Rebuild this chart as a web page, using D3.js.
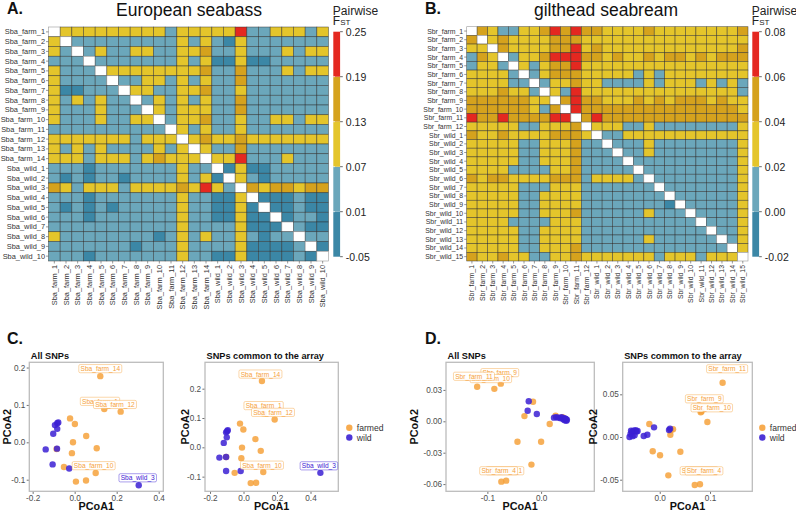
<!DOCTYPE html>
<html><head><meta charset="utf-8">
<script src="https://cdn.jsdelivr.net/npm/d3@7"></script>
<style>
body{margin:0;background:#fff;}
svg{display:block;font-family:"Liberation Sans",Arial,Helvetica,sans-serif;}
</style>
</head><body>
<svg id="chart" width="796" height="510"></svg>
<script>
// ---------------- DATA ----------------
// Pairwise FST heatmaps: each cell coded by its FST class (W = diagonal)
const sbaLabels = ["Sba_farm_1","Sba_farm_2","Sba_farm_3","Sba_farm_4","Sba_farm_5","Sba_farm_6","Sba_farm_7","Sba_farm_8","Sba_farm_9","Sba_farm_10","Sba_farm_11","Sba_farm_12","Sba_farm_13","Sba_farm_14","Sba_wild_1","Sba_wild_2","Sba_wild_3","Sba_wild_4","Sba_wild_5","Sba_wild_6","Sba_wild_7","Sba_wild_8","Sba_wild_9","Sba_wild_10"];
const sbaRows = [
"W Y Y Y Y Y Y Y Y Y L Y Y Y Y Y R L L Y Y Y L Y",
"Y W L L L L L L L L L Y L Y L D Y L L L L L L L",
"Y L W L Y L L Y Y L L Y Y O L L Y L L L Y L Y Y",
"L L L W L L L L L L L Y L Y D D Y D D L L L L L",
"Y L L L W Y Y Y Y Y Y Y Y O L L O L L L Y L Y Y",
"Y L L L L W L L Y Y L Y L Y L L O L L L L L L L",
"Y D D L L L W Y Y L L Y Y O L L Y L L L L L L L",
"Y L Y L Y L L W L Y L Y L Y L L O L L L L L L L",
"Y L L L Y L L L W Y L Y Y Y L L O L L L L L L L",
"Y L L L Y L L Y Y W L Y Y O L L Y L L Y Y L Y Y",
"L L L L L L L L L L W Y L Y L L Y L L L L L L L",
"Y Y Y Y Y Y Y L Y Y Y W Y O Y Y O Y Y Y Y Y Y Y",
"Y L Y L Y L L L L Y L Y W Y L L O L L L L L L L",
"Y Y Y L Y Y Y L Y O Y Y Y W Y Y R L L L Y L L L",
"L L L D L L L L L L L Y L L W D Y D D L L L L L",
"L D L D L L D L L L L Y L Y D W Y L D L L L L L",
"O Y L Y Y Y L Y Y Y Y O Y R Y L W O Y O O Y O O",
"L L L D L L L L L L L Y L L D D Y W D D D L D D",
"L D L D L D L L L L L Y L L D D Y D W D D L D D",
"L L L D L L L L L L L Y L L D D Y D D W D L L D",
"L L L L L L L L L L L Y L L L L Y D D D W L D D",
"Y L L L L L L L L D L Y L Y L L Y L D L L W L L",
"L L L L L L L D L L L Y L L L L Y D D D D L W D",
"L L L D L L L L L L L Y L L D D Y D D D D L D W"];
const sbaClassValues = {D:-0.02, L:0.04, Y:0.10, O:0.16, R:0.22};
const sbaBreaks = [-0.05, 0.01, 0.07, 0.13, 0.19, 0.25];

const sbrLabels = ["Sbr_farm_1","Sbr_farm_2","Sbr_farm_3","Sbr_farm_4","Sbr_farm_5","Sbr_farm_6","Sbr_farm_7","Sbr_farm_8","Sbr_farm_9","Sbr_farm_10","Sbr_farm_11","Sbr_farm_12","Sbr_wild_1","Sbr_wild_2","Sbr_wild_3","Sbr_wild_4","Sbr_wild_5","Sbr_wild_6","Sbr_wild_7","Sbr_wild_8","Sbr_wild_9","Sbr_wild_10","Sbr_wild_11","Sbr_wild_12","Sbr_wild_13","Sbr_wild_14","Sbr_wild_15"];
const sbrRows = [
"W O Y L L Y Y O R O R O O Y Y Y Y O Y Y Y Y Y Y Y Y O",
"O W Y O Y Y Y Y O O O Y Y Y Y Y Y Y Y Y Y Y Y Y Y Y Y",
"Y Y W O Y Y Y Y O O R Y O Y Y Y Y Y Y Y Y Y Y Y Y Y O",
"L O Y W L Y Y O R R R O O Y O Y Y O Y O O Y O Y O O O",
"L Y Y L W Y L Y O O R Y Y Y Y Y Y Y Y Y Y Y Y Y Y Y Y",
"Y Y Y Y L W L Y O O O Y Y Y Y Y L Y L Y Y Y Y Y Y Y Y",
"Y Y Y Y L L W L Y Y O Y Y L L L L Y L Y Y Y L Y L Y L",
"Y Y Y O Y Y L W Y L R Y Y Y Y Y Y Y Y Y Y Y Y Y Y Y L",
"O O O O O O Y Y W O R O O Y Y Y O Y O Y O O O Y O Y Y",
"O O O O O O Y L O W R O O O O O O O O O O O O O O O Y",
"R O O R O O O O R R W O R O O O O O O O O O O O O O O",
"Y Y Y Y Y L L Y Y Y O W Y Y Y L L Y L L L L L L L L Y",
"O Y Y O Y Y Y Y O O O Y W L L Y Y Y Y Y Y Y Y Y Y Y Y",
"Y Y Y Y Y L L Y Y Y O L L W L L L Y L L L L L L L L Y",
"Y Y Y Y Y L L Y Y Y O L L L W L L Y L L L L L L L L Y",
"Y Y Y Y Y L L Y Y Y O L L L L W L L L L L L L L L L Y",
"Y Y Y Y L L L L Y Y O L L L L L W L L L L L L L L L Y",
"O Y O O Y Y Y Y O O O L Y Y Y Y L W L L L L L L L L Y",
"Y Y Y Y Y L L L Y Y Y L L L L L L L W L L L L L L L Y",
"Y Y Y Y Y L L Y Y Y Y L L L L L L L L W L L L L L L Y",
"Y Y Y Y Y L L Y Y Y Y L L L L L L L L D W L L L L L Y",
"Y Y Y Y Y L L Y Y Y O L L L L L L Y L L L W L L L L Y",
"Y Y Y Y L L L L Y Y Y L L L L L L L L L L L W L L L Y",
"Y Y Y Y Y L L Y Y Y Y L L L L L L L L L L L L W L L Y",
"Y Y Y Y Y L L Y Y Y Y L L L L L L Y L L L L L L W L Y",
"Y Y Y Y Y L L Y Y Y O L L L L L L L L L L L L L L W Y",
"O Y Y O Y Y L L Y Y O Y Y Y Y Y Y Y L Y Y Y L Y Y Y W"];
const sbrClassValues = {D:-0.01, L:0.01, Y:0.03, O:0.05, R:0.07};
const sbrBreaks = [-0.02, 0.00, 0.02, 0.04, 0.06, 0.08];

const fstColors = ["#3b87a6", "#6ba7bb", "#e4c52b", "#d5a21d", "#e42820"];

// PCoA coordinates [PCoA1, PCoA2]
const sbaAllFarmed = [[0.122,0.177],[0.141,0.089],[0.219,0.082],[0.100,-0.082],[-0.022,0.064],[0.001,0.049],[0.055,0.017],[-0.008,0.000],[0.105,-0.016],[-0.013,-0.029],[-0.086,-0.018],[-0.051,-0.066],[0.054,-0.102],[0.006,-0.105]];
const sbaAllWild = [[-0.083,0.051],[-0.094,0.046],[-0.078,0.053],[-0.083,0.036],[-0.102,0.023],[-0.138,-0.019],[-0.084,-0.017],[-0.105,-0.059],[-0.026,-0.070],[0.305,-0.115]];
const sbaArrFarmed = [[0.110,0.226],[0.120,0.115],[0.186,0.095],[0.118,-0.084],[-0.021,0.081],[-0.001,0.061],[0.071,0.028],[-0.009,-0.001],[0.103,-0.012],[-0.013,-0.037],[-0.053,-0.087],[0.043,-0.122],[0.075,-0.121],[-0.104,-0.033]];
const sbaArrWild = [[-0.094,0.058],[-0.104,0.051],[-0.098,0.055],[-0.100,0.034],[-0.118,0.015],[-0.144,-0.035],[-0.104,-0.033],[-0.104,-0.081],[-0.017,-0.081],[0.459,-0.087]];
const sbrAllFarmed = [[-0.119,0.033],[-0.087,0.031],[-0.075,0.036],[-0.074,-0.0577],[-0.065,-0.0567],[-0.015,0.0187],[-0.031,0.005],[0.027,0.0054],[0.016,-0.0026],[-0.044,-0.0195],[0.000,-0.0195],[-0.018,-0.0414],[0.040,0.004],[0.045,0.002]];
const sbrAllWild = [[-0.023,0.0191],[-0.025,0.0101],[-0.008,0.007],[0.024,0.0035],[0.028,0.004],[0.032,0.0035],[0.036,0.003],[0.038,0.004],[0.041,0.002],[0.043,0.003],[0.044,0.001],[0.046,0.002],[0.047,0.0005],[0.045,0.0025],[0.048,0.0015]];
const sbrArrFarmed = [[0.125,0.0636],[0.0815,0.0289],[0.0947,0.0176],[0.080,-0.0554],[0.0696,-0.0562],[-0.0207,0.0152],[0.0264,0.009],[0.0211,0.0027],[-0.0139,-0.0167],[0.0006,-0.0214],[0.041,-0.0172],[0.0171,-0.0449],[0.083,0.030],[0.022,0.008]];
const sbrArrWild = [[-0.0113,0.0113],[0.0185,0.0082],[0.0205,0.0098],[-0.060,0.000],[-0.058,0.0035],[-0.055,0.006],[-0.052,0.0075],[-0.050,0.002],[-0.048,0.008],[-0.046,0.0065],[-0.044,0.007],[-0.054,0.001],[-0.0318,0.0012],[-0.0246,0.0027],[-0.057,0.0075]];

// labelled points: [name, group, index]
const sbaAllLabels = [["Sba_farm_14","farmed",0],["Sba_farm_1","farmed",1],["Sba_farm_12","farmed",2],["Sba_farm_10","farmed",3],["Sba_wild_3","wild",9]];
const sbaArrLabels = [["Sba_farm_14","farmed",0],["Sba_farm_1","farmed",1],["Sba_farm_12","farmed",2],["Sba_farm_10","farmed",3],["Sba_wild_3","wild",9]];
const sbrAllLabels = [["Sbr_farm_9","farmed",2],["Sbr_farm_10","farmed",1],["Sbr_farm_11","farmed",0],["Sbr_farm_1","farmed",4],["Sbr_farm_4","farmed",3]];
const sbrArrLabels = [["Sbr_farm_11","farmed",0],["Sbr_farm_9","farmed",1],["Sbr_farm_10","farmed",2],["Sbr_farm_1","farmed",4],["Sbr_farm_4","farmed",3]];

const groupNames = ["farmed","wild"];
const groupColors = {farmed:"#f6a23c", wild:"#3b20d3"};

// ---------------- DRAWING ----------------
const svg = d3.select("#chart");
const FONT = '"Liberation Sans",Arial,Helvetica,sans-serif';

function heatmap(o) {
  const g = svg.append("g");
  const x = d3.scaleBand().domain(o.labels).range([o.x0, o.x1]);
  const y = d3.scaleBand().domain(o.labels).range([o.y0, o.y1]);
  const color = d3.scaleThreshold().domain(o.breaks.slice(1, -1)).range(fstColors);
  const cells = [];
  o.rows.forEach((r, i) => r.trim().split(/\s+/).forEach((c, j) => {
    cells.push({row: o.labels[i], col: o.labels[j], v: c === "W" ? null : o.values[c]});
  }));
  g.selectAll("rect.cell").data(cells).join("rect")
    .attr("x", d => x(d.col)).attr("y", d => y(d.row))
    .attr("width", x.bandwidth()).attr("height", y.bandwidth())
    .attr("fill", d => d.v === null ? "#ffffff" : color(d.v))
    .attr("stroke", d => d.v === null ? "#9a9a9a" : "#2e2e2e")
    .attr("stroke-opacity", d => d.v === null ? 1 : 0.75)
    .attr("stroke-width", 0.6);
  g.selectAll("text.rl").data(o.labels).join("text")
    .attr("x", o.x0 - 3.5).attr("y", d => y(d) + y.bandwidth() / 2)
    .attr("text-anchor", "end").attr("dominant-baseline", "central")
    .attr("font-size", o.fs).attr("fill", "#333").text(d => d);
  g.selectAll("line.rt").data(o.labels).join("line")
    .attr("x1", o.x0 - 2.5).attr("x2", o.x0)
    .attr("y1", d => y(d) + y.bandwidth() / 2).attr("y2", d => y(d) + y.bandwidth() / 2)
    .attr("stroke", "#555").attr("stroke-width", 0.6);
  g.selectAll("text.cl").data(o.labels).join("text")
    .attr("transform", d => `translate(${x(d) + x.bandwidth() / 2},${o.y1 + 4}) rotate(-90)`)
    .attr("text-anchor", "end").attr("dominant-baseline", "central")
    .attr("font-size", o.fs).attr("fill", "#333").text(d => d);
  g.selectAll("line.ct").data(o.labels).join("line")
    .attr("y1", o.y1).attr("y2", o.y1 + 2.5)
    .attr("x1", d => x(d) + x.bandwidth() / 2).attr("x2", d => x(d) + x.bandwidth() / 2)
    .attr("stroke", "#555").attr("stroke-width", 0.6);
  const cb = d3.scaleLinear().domain([o.breaks[0], o.breaks[o.breaks.length - 1]]).range([256.7, 31.7]);
  const bins = d3.pairs(o.breaks);
  g.selectAll("rect.cb").data(bins).join("rect")
    .attr("x", o.barX).attr("width", 6.8)
    .attr("y", d => cb(d[1])).attr("height", d => cb(d[0]) - cb(d[1]))
    .attr("fill", (d, i) => fstColors[i]);
  g.selectAll("line.cbt").data(o.breaks).join("line")
    .attr("x1", o.barX + 6.8).attr("x2", o.barX + 9.5)
    .attr("y1", d => cb(d)).attr("y2", d => cb(d))
    .attr("stroke", "#444").attr("stroke-width", 0.8);
  g.selectAll("line.cbt2").data(o.breaks.slice(1, -1)).join("line")
    .attr("x1", o.barX).attr("x2", o.barX + 1.5)
    .attr("y1", d => cb(d)).attr("y2", d => cb(d))
    .attr("stroke", "#ffffff").attr("stroke-width", 0.8);
  g.selectAll("text.cbl").data(o.breaks).join("text")
    .attr("x", o.barX + 12.5).attr("y", d => cb(d)).attr("dominant-baseline", "central")
    .attr("font-size", 10.5).attr("fill", "#222")
    .text(d => d3.format(".2f")(d).replace("\u2212", "-"));
  g.append("text").attr("x", o.barX - 0.5).attr("y", 15).attr("font-size", 12).attr("fill", "#222").text("Pairwise");
  const f = g.append("text").attr("x", o.barX - 0.5).attr("y", 25).attr("font-size", 12).attr("fill", "#222");
  f.append("tspan").text("F");
  f.append("tspan").attr("font-size", 8).text("ST");
  g.append("text").attr("x", o.titleX).attr("y", 15.5).attr("text-anchor", "middle")
    .attr("font-size", 17.5).attr("fill", "#111").text(o.title);
  g.append("text").attr("x", o.letterX).attr("y", 14).attr("font-size", 16)
    .attr("font-weight", "bold").attr("fill", "#111").text(o.letter);
}

heatmap({labels: sbaLabels, rows: sbaRows, values: sbaClassValues, breaks: sbaBreaks,
  x0: 48.5, x1: 328.5, y0: 27, y1: 261, fs: 7.4, barX: 333.3,
  title: "European seabass", titleX: 189, letter: "A.", letterX: 7});
heatmap({labels: sbrLabels, rows: sbrRows, values: sbrClassValues, breaks: sbrBreaks,
  x0: 466.7, x1: 748, y0: 26.7, y1: 261, fs: 6.9, barX: 752.3,
  title: "gilthead seabream", titleX: 606, letter: "B.", letterX: 425});

function fmtTick(p) { return d => d3.format(p)(d).replace("\u2212", "-"); }

function pcoa(o) {
  const g = svg.append("g");
  const [bx0, by0, bx1, by1] = o.box;
  const x = d3.scaleLinear().domain(o.xDom).range([bx0, bx1]);
  const y = d3.scaleLinear().domain(o.yDom).range([by1, by0]);
  g.append("rect").attr("x", bx0).attr("y", by0).attr("width", bx1 - bx0).attr("height", by1 - by0)
    .attr("fill", "#fff").attr("stroke", "#bcbcbc").attr("stroke-width", 1.3);
  const ax = g.append("g").attr("transform", `translate(0,${by1 + 0.6})`)
    .call(d3.axisBottom(x).tickValues(o.xTicks).tickFormat(fmtTick(o.xFmt)).tickSize(2).tickPadding(0.8));
  const ay = g.append("g").attr("transform", `translate(${bx0 - 0.6},0)`)
    .call(d3.axisLeft(y).tickValues(o.yTicks).tickFormat(fmtTick(o.yFmt)).tickSize(2).tickPadding(1.3));
  [ax, ay].forEach(a => {
    a.select(".domain").remove();
    a.selectAll("line").attr("stroke", "#333").attr("stroke-width", 0.7);
    a.selectAll("text").attr("fill", "#4d4d4d").attr("font-size", o.tickFs).attr("font-family", FONT);
  });
  const pts = [];
  o.farmed.forEach(p => pts.push({g: "farmed", p}));
  o.wild.forEach(p => pts.push({g: "wild", p}));
  g.selectAll("circle.pt").data(pts).join("circle")
    .attr("cx", d => x(d.p[0])).attr("cy", d => y(d.p[1])).attr("r", 3.2)
    .attr("fill", d => groupColors[d.g]).attr("fill-opacity", 0.85);
  o.labels.forEach((l, k) => {
    const src = l[1] === "farmed" ? o.farmed : o.wild;
    const p = src[l[2]];
    const off = o.offsets[k];
    const cx = x(p[0]) + off[0], cy = y(p[1]) + off[1];
    const lg = g.append("g");
    const t = lg.append("text").attr("x", cx).attr("y", cy).attr("text-anchor", "middle")
      .attr("dominant-baseline", "central").attr("font-size", o.labFs)
      .attr("fill", groupColors[l[1]]).text(l[0]);
    const w = t.node().getComputedTextLength() + 3.4;
    const h = o.labFs + 1.6;
    lg.insert("rect", "text").attr("x", cx - w / 2).attr("y", cy - h / 2).attr("width", w).attr("height", h)
      .attr("rx", 1.4).attr("fill", "#fff").attr("fill-opacity", 0.9)
      .attr("stroke", groupColors[l[1]]).attr("stroke-opacity", 0.55).attr("stroke-width", 0.8);
  });
  g.append("text").attr("x", bx0 + 1.5).attr("y", by0 - 3.5).attr("font-size", o.titleFs)
    .attr("font-weight", "bold").attr("fill", "#111").text(o.title);
  g.append("text").attr("x", (bx0 + bx1) / 2).attr("y", 509.5).attr("text-anchor", "middle")
    .attr("font-size", o.axFs).attr("font-weight", "bold").attr("fill", "#111").text("PCoA1");
  g.append("text").attr("transform", `translate(${o.ylabX},${(by0 + by1) / 2}) rotate(-90)`)
    .attr("text-anchor", "middle").attr("font-size", o.axFs).attr("font-weight", "bold")
    .attr("fill", "#111").text("PCoA2");
}

function legend(x0, y0) {
  const g = svg.append("g");
  groupNames.forEach((n, i) => {
    g.append("circle").attr("cx", x0).attr("cy", y0 + i * 9.8).attr("r", 3.2)
      .attr("fill", groupColors[n]).attr("fill-opacity", 0.9);
    g.append("text").attr("x", x0 + 7.5).attr("y", y0 + i * 9.8).attr("dominant-baseline", "central")
      .attr("font-size", 8.6).attr("fill", "#333").text(n);
  });
}

const commonC = {tickFs: 8.2, labFs: 6.6, titleFs: 9.2, axFs: 10.8};
pcoa(Object.assign({}, commonC, {farmed: sbaAllFarmed, wild: sbaAllWild, labels: sbaAllLabels,
  offsets: [[0,-7.5],[-4.3,-7.7],[-5.7,-7.2],[-2,-7.3],[-1,-7.5]],
  xDom: [-0.216, 0.422], yDom: [-0.131, 0.214], box: [29.3, 362.3, 163.3, 491.3],
  xTicks: [-0.2, 0, 0.2, 0.4], yTicks: [-0.1, 0, 0.1, 0.2], xFmt: ".1f", yFmt: ".1f",
  title: "All SNPs", ylabX: 11}));
pcoa(Object.assign({}, commonC, {farmed: sbaArrFarmed, wild: sbaArrWild, labels: sbaArrLabels,
  offsets: [[-1.5,-7],[0,-8],[-1.7,-7.1],[-1.3,-6.8],[-1.5,-7]],
  xDom: [-0.23, 0.566], yDom: [-0.15, 0.29], box: [205, 362.3, 338.3, 491.3],
  xTicks: [-0.2, 0, 0.2, 0.4], yTicks: [-0.1, 0, 0.1, 0.2], xFmt: ".1f", yFmt: ".1f",
  title: "SNPs common to the array", ylabX: 188.5}));
pcoa(Object.assign({}, commonC, {farmed: sbrAllFarmed, wild: sbrAllWild, labels: sbrAllLabels,
  offsets: [[-1,-11],[-3.5,-10.3],[-3.2,-10.5],[-1.3,-9.9],[-2.7,-10.9]],
  xDom: [-0.177, 0.099], yDom: [-0.0669, 0.0564], box: [446, 362.3, 594.3, 491.3],
  xTicks: [-0.1, 0.0], yTicks: [-0.06, -0.03, 0, 0.03], xFmt: ".1f", yFmt: ".2f",
  title: "All SNPs", ylabX: 418}));
pcoa(Object.assign({}, commonC, {farmed: sbrArrFarmed, wild: sbrArrWild, labels: sbrArrLabels,
  offsets: [[4.5,-13.9],[3.6,-13.5],[4.4,-14.2],[4.3,-14.2],[4,-13.5]],
  xDom: [-0.0736, 0.184], yDom: [-0.0636, 0.0875], box: [622.7, 362.3, 752.3, 491.3],
  xTicks: [0.0, 0.1], yTicks: [-0.05, 0, 0.05], xFmt: ".1f", yFmt: ".2f",
  title: "SNPs common to the array", ylabX: 597}));

legend(349.3, 427.7);
legend(762.3, 427.7);

svg.append("text").attr("x", 7).attr("y", 344).attr("font-size", 16).attr("font-weight", "bold").attr("fill", "#111").text("C.");
svg.append("text").attr("x", 425).attr("y", 344).attr("font-size", 16).attr("font-weight", "bold").attr("fill", "#111").text("D.");
</script>
</body></html>
